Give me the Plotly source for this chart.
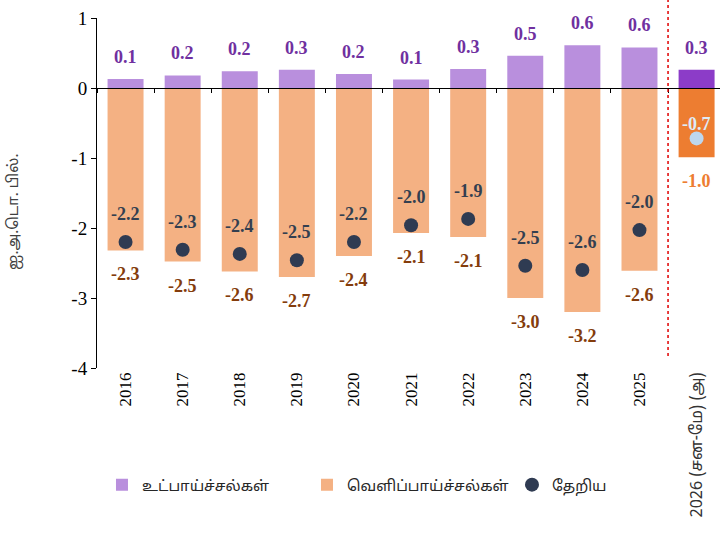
import plotly.graph_objects as go

# Categories (years) and series values, US$ billions
categories = ["2016", "2017", "2018", "2019", "2020", "2021", "2022",
              "2023", "2024", "2025", "2026 (சன-மே) (அ)"]
inflows = [0.13, 0.18, 0.24, 0.26, 0.20, 0.12, 0.27, 0.46, 0.61, 0.58, 0.26]
outflows = [-2.32, -2.48, -2.62, -2.70, -2.40, -2.07, -2.13, -3.00, -3.20, -2.61, -0.99]
net = [-2.20, -2.31, -2.37, -2.46, -2.20, -1.96, -1.87, -2.54, -2.60, -2.03, -0.72]

y_ticks = [1, 0, -1, -2, -3, -4]

series_names = ["உட்பாய்ச்சல்கள்", "வெளிப்பாய்ச்சல்கள்", "தேறிய"]
y_title = "ஐ.அ.டொ. பில்."

n = len(categories)
last = n - 1

IN_C, IN_HI = "#B98FDD", "#8C3CC8"
OUT_C, OUT_HI = "#F4B183", "#ED7D31"
NET_C, NET_HI = "#2F3B52", "#BDD7EE"

SERIF = "Liberation Serif, Times New Roman, serif"
SANS = ("Noto Sans Tamil, Lohit Tamil, Noto Sans Tamil UI, Latha, "
        "Liberation Sans, Arial, sans-serif")

fig = go.Figure()

fig.add_trace(go.Bar(
    x=categories, y=inflows, name=series_names[0], width=0.63,
    marker=dict(color=[IN_C] * last + [IN_HI], line=dict(width=0)),
))
fig.add_trace(go.Bar(
    x=categories, y=outflows, name=series_names[1], width=0.63,
    marker=dict(color=[OUT_C] * last + [OUT_HI], line=dict(width=0)),
))
fig.add_trace(go.Scatter(
    x=categories, y=net, name=series_names[2], mode="markers",
    marker=dict(size=14, color=[NET_C] * last + [NET_HI], line=dict(width=0)),
))
# helper trace so the zero-line axis (x2) carries the category ticks
fig.add_trace(go.Scatter(
    x=categories, y=[None] * n, xaxis="x2", showlegend=False,
    hoverinfo="skip", mode="markers",
))

annotations = []
for i in range(n):
    annotations.append(dict(
        x=i, y=inflows[i], text=f"{inflows[i]:.1f}", showarrow=False,
        yshift=22, yanchor="middle",
        font=dict(family=SERIF, size=18, color="#7030A0", weight="bold"),
    ))
    annotations.append(dict(
        x=i, y=outflows[i], text=f"{outflows[i]:.1f}", showarrow=False,
        yshift=-24, yanchor="middle",
        font=dict(family=SERIF, size=18,
                  color=OUT_HI if i == last else "#843C0C", weight="bold"),
    ))
    annotations.append(dict(
        x=i, y=net[i], text=f"{net[i]:.1f}", showarrow=False,
        yshift=14 if i == last else 28, yanchor="middle",
        font=dict(family=SERIF, size=18,
                  color="#DEEBF7" if i == last else "#333F50", weight="bold"),
    ))

annotations.append(dict(
    xref="paper", yref="y", x=-0.1316, y=-1.77, text=y_title,
    textangle=-90, showarrow=False, xanchor="center", yanchor="middle",
    font=dict(family=SANS, size=15, color="#404040"),
))

# last category label is set in a sans face
tick_text = categories[:last] + [
    '<span style="font-family:Noto Sans Tamil, Lohit Tamil, Liberation Sans, '
    f'Arial, sans-serif;font-size:16px;fill:#333333">{categories[last]}</span>'
]

fig.update_layout(
    width=720, height=536,
    margin=dict(l=97, r=0, t=18, b=168),
    paper_bgcolor="white", plot_bgcolor="white",
    barmode="relative",
    showlegend=True,
    legend=dict(
        orientation="h", x=0.008, y=-0.334, xanchor="left", yanchor="middle",
        font=dict(family=SANS, size=15, color="#262626"),
        bgcolor="rgba(0,0,0,0)",
        traceorder="normal", itemclick=False, entrywidth=160,
    ),
    xaxis=dict(
        type="category", range=[-0.5, 10.41],
        tickmode="array", tickvals=categories, ticktext=tick_text,
        tickangle=-90, ticks="", showline=False, showgrid=False,
        zeroline=False,
        tickfont=dict(family=SERIF, size=17, color="#000000"),
    ),
    xaxis2=dict(
        type="category", overlaying="x", matches="x", anchor="free",
        position=0.8, showline=True, linecolor="#000000", linewidth=1,
        ticks="outside", ticklen=4, tickcolor="#000000", tickson="boundaries",
        showticklabels=False, showgrid=False, zeroline=False,
    ),
    yaxis=dict(
        range=[-4, 1], tickmode="array", tickvals=y_ticks,
        ticktext=[str(v) for v in y_ticks],
        ticks="outside", ticklen=5, tickcolor="#000000",
        showline=True, linecolor="#000000", linewidth=1,
        showgrid=False, zeroline=False,
        tickfont=dict(family=SERIF, size=19, color="#000000"),
    ),
    annotations=annotations,
    shapes=[dict(
        type="line", xref="x", yref="paper",
        x0=9.5, x1=9.5, y0=0.034, y1=1.06,
        line=dict(color="#E00000", width=1.5, dash="dot"),
    )],
)

fig.write_html("out.html")
